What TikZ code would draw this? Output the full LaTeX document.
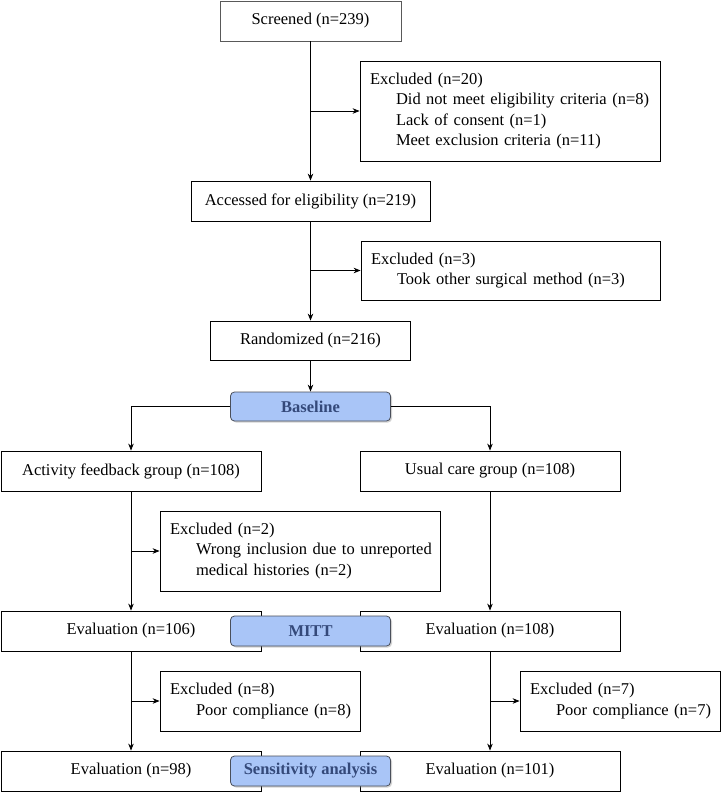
\documentclass[tikz,border=0pt]{standalone}
\usepackage{fontspec}
\setmainfont{Liberation Serif}
\usetikzlibrary{arrows.meta,shadows}
\definecolor{tagfill}{HTML}{A9C5F7}
\definecolor{tagtext}{HTML}{34497A}
\definecolor{tagborder}{HTML}{4A4F5A}
\tikzset{
  box/.style={draw=black, line width=0.8pt, fill=white, inner sep=0pt, align=center,
    font=\fontsize{16.5}{20.5}\selectfont},
  exbox/.style={box, align=left, inner xsep=10pt, anchor=center},
  tag/.style={draw=tagborder, line width=0.8pt, fill=tagfill, rounded corners=4pt,
    font=\fontsize{16.5}{20}\selectfont\bfseries, text=tagtext,
    drop shadow={shadow xshift=1.5pt, shadow yshift=-1.5pt, opacity=0.35},
    inner sep=0pt},
  conn/.style={draw=black, line width=0.8pt},
  arr/.style={conn, -{Stealth[length=7pt,width=5.5pt]}},
}
\newcommand{\ind}[1]{\hspace*{26pt}\mbox{#1}}
\begin{document}
\begin{tikzpicture}[x=1pt,y=-1pt]
\useasboundingbox[fill=white] (0,0) rectangle (721,795);
% main column
\node[box, draw=black!65, minimum width=181, minimum height=40] (scr) at (310.5,21) {Screened (n=239)};
\node[exbox, minimum width=300, minimum height=100, text width=280] (ex1) at (510,111)
  {\mbox{Excluded (n=20)}\\ \ind{Did not meet eligibility criteria (n=8)}\\ \ind{Lack of consent (n=1)}\\ \ind{Meet exclusion criteria (n=11)}};
\node[box, minimum width=239, minimum height=40] (acc) at (310.5,201) {Accessed for eligibility (n=219)};
\node[exbox, minimum width=299, minimum height=59, text width=279] (ex2) at (510.5,270.5)
  {\mbox{Excluded (n=3)}\\ \ind{Took other surgical method (n=3)}};
\node[box, minimum width=200, minimum height=39] (ran) at (310.5,340.5) {Randomized (n=216)};
% groups
\node[box, minimum width=260, minimum height=40] (act) at (131,471) {Activity feedback group (n=108)};
\node[box, minimum width=260, minimum height=40] (usu) at (490,471) {Usual care group (n=108)};
\node[exbox, minimum width=280, minimum height=80, text width=260] (ex3) at (300,551)
  {\mbox{Excluded (n=2)}\\ \ind{Wrong inclusion due to unreported}\\ \ind{medical histories (n=2)}};
\node[box, minimum width=260, minimum height=40] (ev1) at (131,631) {Evaluation (n=106)};
\node[box, minimum width=260, minimum height=40] (ev2) at (490,631) {Evaluation (n=108)};
\node[exbox, minimum width=200, minimum height=60, text width=180] (ex4) at (260,701)
  {\mbox{Excluded (n=8)}\\ \ind{Poor compliance (n=8)}};
\node[exbox, minimum width=200, minimum height=60, text width=180] (ex5) at (620,701)
  {\mbox{Excluded (n=7)}\\ \ind{Poor compliance (n=7)}};
\node[box, minimum width=260, minimum height=40] (ev3) at (131,771) {Evaluation (n=98)};
\node[box, minimum width=260, minimum height=40] (ev4) at (490,771) {Evaluation (n=101)};
% tags
\node[tag, minimum width=160, minimum height=29] (base) at (310.5,406.5) {Baseline};
\node[tag, minimum width=160, minimum height=30] (mitt) at (310.5,631) {MITT};
\node[tag, minimum width=160, minimum height=30] (sens) at (310.5,771) {Sensitivity analysis};
% connectors
\draw[arr] (scr.south) -- (acc.north);
\coordinate (b1) at (scr.south |- ex1.west);
\draw[arr] (b1) -- (ex1.west);
\draw[arr] (acc.south) -- (ran.north);
\coordinate (b2) at (acc.south |- ex2.west);
\draw[arr] (b2) -- (ex2.west);
\draw[arr] (ran.south) -- (base.north);
\draw[arr] (base.west) -| (act.north);
\draw[arr] (base.east) -| (usu.north);
\draw[arr] (act.south) -- (ev1.north);
\coordinate (b3) at (act.south |- ex3.west);
\draw[arr] (b3) -- (ex3.west);
\draw[arr] (usu.south) -- (ev2.north);
\draw[arr] (ev1.south) -- (ev3.north);
\coordinate (b4) at (ev1.south |- ex4.west);
\draw[arr] (b4) -- (ex4.west);
\draw[arr] (ev2.south) -- (ev4.north);
\coordinate (b5) at (ev2.south |- ex5.west);
\draw[arr] (b5) -- (ex5.west);
\end{tikzpicture}
\end{document}
